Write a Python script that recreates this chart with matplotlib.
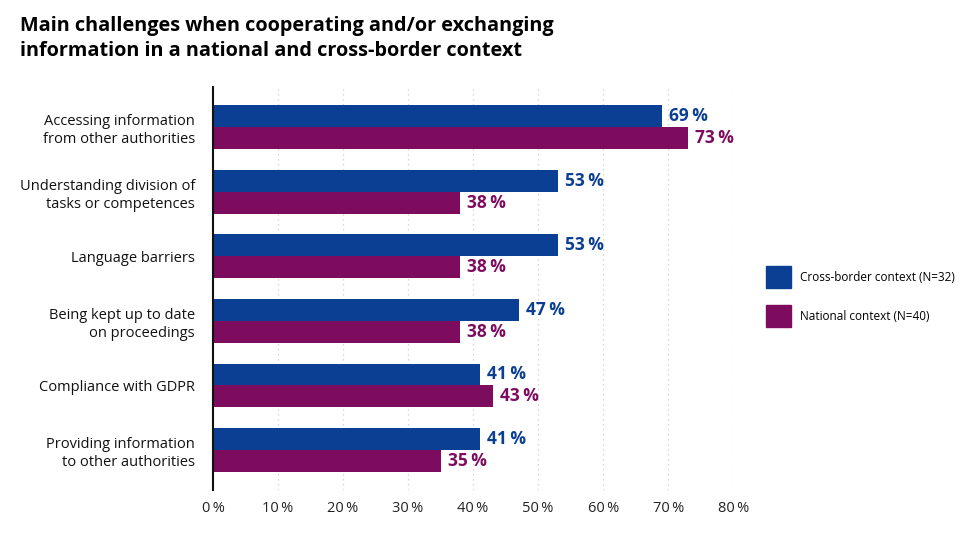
import numpy as np
import matplotlib.pyplot as plt
from matplotlib.patches import Patch

# Datos
categorias = [
    'Accessing information\nfrom other authorities',
    'Understanding division of\ntasks or competences',
    'Language barriers',
    'Being kept up to date\non proceedings',
    'Compliance with GDPR',
    'Providing information\nto other authorities',
]
cross_border = [69, 53, 53, 47, 41, 41]
nacional = [73, 38, 38, 38, 43, 35]
ticks = [0, 10, 20, 30, 40, 50, 60, 70, 80]

azul = '#0b3f93'
magenta = '#7d0c5f'

plt.rcParams['font.family'] = ['Open Sans', 'DejaVu Sans']

fig = plt.figure(figsize=(9.66, 5.35), dpi=100)
ax = fig.add_axes([0.2205, 0.084, 0.5385, 0.753])

y = np.arange(len(categorias))
alto = 0.34
ax.barh(y - alto / 2, cross_border, height=alto, color=azul)
ax.barh(y + alto / 2, nacional, height=alto, color=magenta)

for yi, v in zip(y, cross_border):
    ax.text(v + 1.1, yi - alto / 2, f'{v}\u2009%', va='center', ha='left',
            color=azul, fontsize=12.5, fontweight='bold')
for yi, v in zip(y, nacional):
    ax.text(v + 1.1, yi + alto / 2, f'{v}\u2009%', va='center', ha='left',
            color=magenta, fontsize=12.5, fontweight='bold')

ax.set_xlim(0, 80)
ax.set_ylim(5.62, -0.62)
ax.set_xticks(ticks)
ax.set_xticklabels([f'{t}\u2009%' for t in ticks], fontsize=10.5, color='#222222')
ax.set_yticks(y)
ax.set_yticklabels(categorias, fontsize=10.5, color='#111111', linespacing=1.25)
ax.tick_params(axis='both', length=0)
ax.tick_params(axis='y', pad=13)
ax.tick_params(axis='x', pad=8)

for t in ticks[1:]:
    ax.axvline(t, color='#cccccc', linestyle=(0, (1, 3)), linewidth=0.9, zorder=0)

for lado in ['top', 'right', 'bottom']:
    ax.spines[lado].set_visible(False)
ax.spines['left'].set_linewidth(1.5)
ax.spines['left'].set_color('#111111')

fig.text(0.021, 0.97, 'Main challenges when cooperating and/or exchanging\n'
         'information in a national and cross-border context',
         fontsize=14.3, fontweight='bold', va='top', ha='left', linespacing=1.35)

handles = [Patch(color=azul, label='Cross-border context (N=32)'),
           Patch(color=magenta, label='National context (N=40)')]
fig.legend(handles=handles, loc='center left', bbox_to_anchor=(0.782, 0.446),
           frameon=False, fontsize=8.5, handlelength=2.1, handleheight=2.4,
           labelspacing=1.5, handletextpad=0.8)

fig.savefig('out.png', dpi=100)
